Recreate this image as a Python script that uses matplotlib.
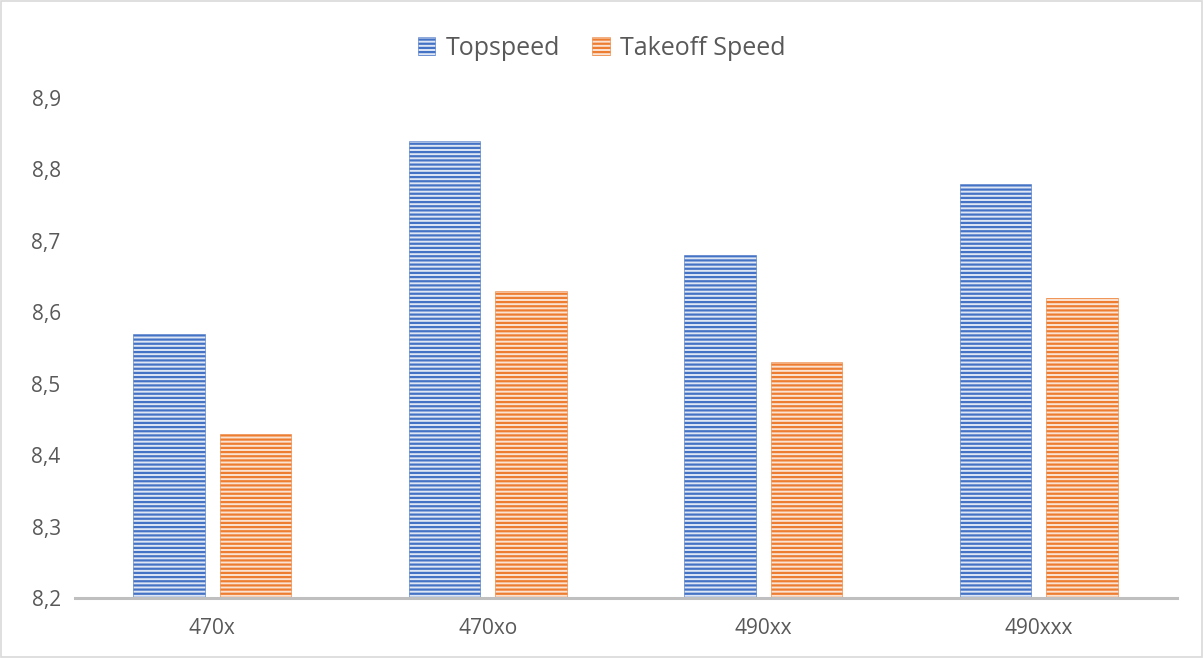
import numpy as np
import matplotlib
matplotlib.use("Agg")
import matplotlib.pyplot as plt
from matplotlib.patches import Rectangle

# Chart data
models = ["470x", "470xo", "490xx", "490xxx"]
topspeed = [8.57, 8.84, 8.68, 8.78]
takeoff_speed = [8.43, 8.63, 8.53, 8.62]
y_ticks = [8.2, 8.3, 8.4, 8.5, 8.6, 8.7, 8.8, 8.9]

plt.rcParams["font.family"] = ["Open Sans", "DejaVu Sans"]
plt.rcParams["hatch.linewidth"] = 1.6

fig = plt.figure(figsize=(12.03, 6.58), dpi=100)
ax = fig.add_axes([0.062, 0.091, 0.916, 0.76])

x = np.arange(len(models))
width = 0.26
offset = 0.157
text_color = "#595959"

ax.bar(x - offset, np.array(topspeed) - 8.2, width, bottom=8.2,
       facecolor="#dfe7f5", edgecolor="#4472c4", linewidth=0.4,
       hatch="----", label="Topspeed")
ax.bar(x + offset, np.array(takeoff_speed) - 8.2, width, bottom=8.2,
       facecolor="#fbe3d3", edgecolor="#ed7d31", linewidth=0.4,
       hatch="----", label="Takeoff Speed")

ax.set_xlim(-0.5, len(models) - 0.5)
ax.set_ylim(8.2, 8.9)
ax.set_yticks(y_ticks)
ax.set_yticklabels([f"{v:.1f}".replace(".", ",") for v in y_ticks])
ax.set_xticks(x)
ax.set_xticklabels(models)
ax.tick_params(axis="both", length=0, colors=text_color, labelsize=15)
ax.tick_params(axis="x", pad=14)
ax.tick_params(axis="y", pad=10)

for side in ["top", "right", "left"]:
    ax.spines[side].set_visible(False)
ax.spines["bottom"].set_color("#bfbfbf")
ax.spines["bottom"].set_linewidth(2.2)

leg = fig.legend(loc="upper center", bbox_to_anchor=(0.5, 0.98), ncol=2,
                 frameon=False, fontsize=18, handlelength=0.7,
                 handleheight=0.7, columnspacing=1.3, handletextpad=0.4)
for t in leg.get_texts():
    t.set_color(text_color)

# light border around the chart
fig.patches.append(Rectangle((0.001, 0.002), 0.998, 0.996, transform=fig.transFigure,
                             fill=False, edgecolor="#d9d9d9", linewidth=1.2))

fig.savefig("out.png", dpi=100)
